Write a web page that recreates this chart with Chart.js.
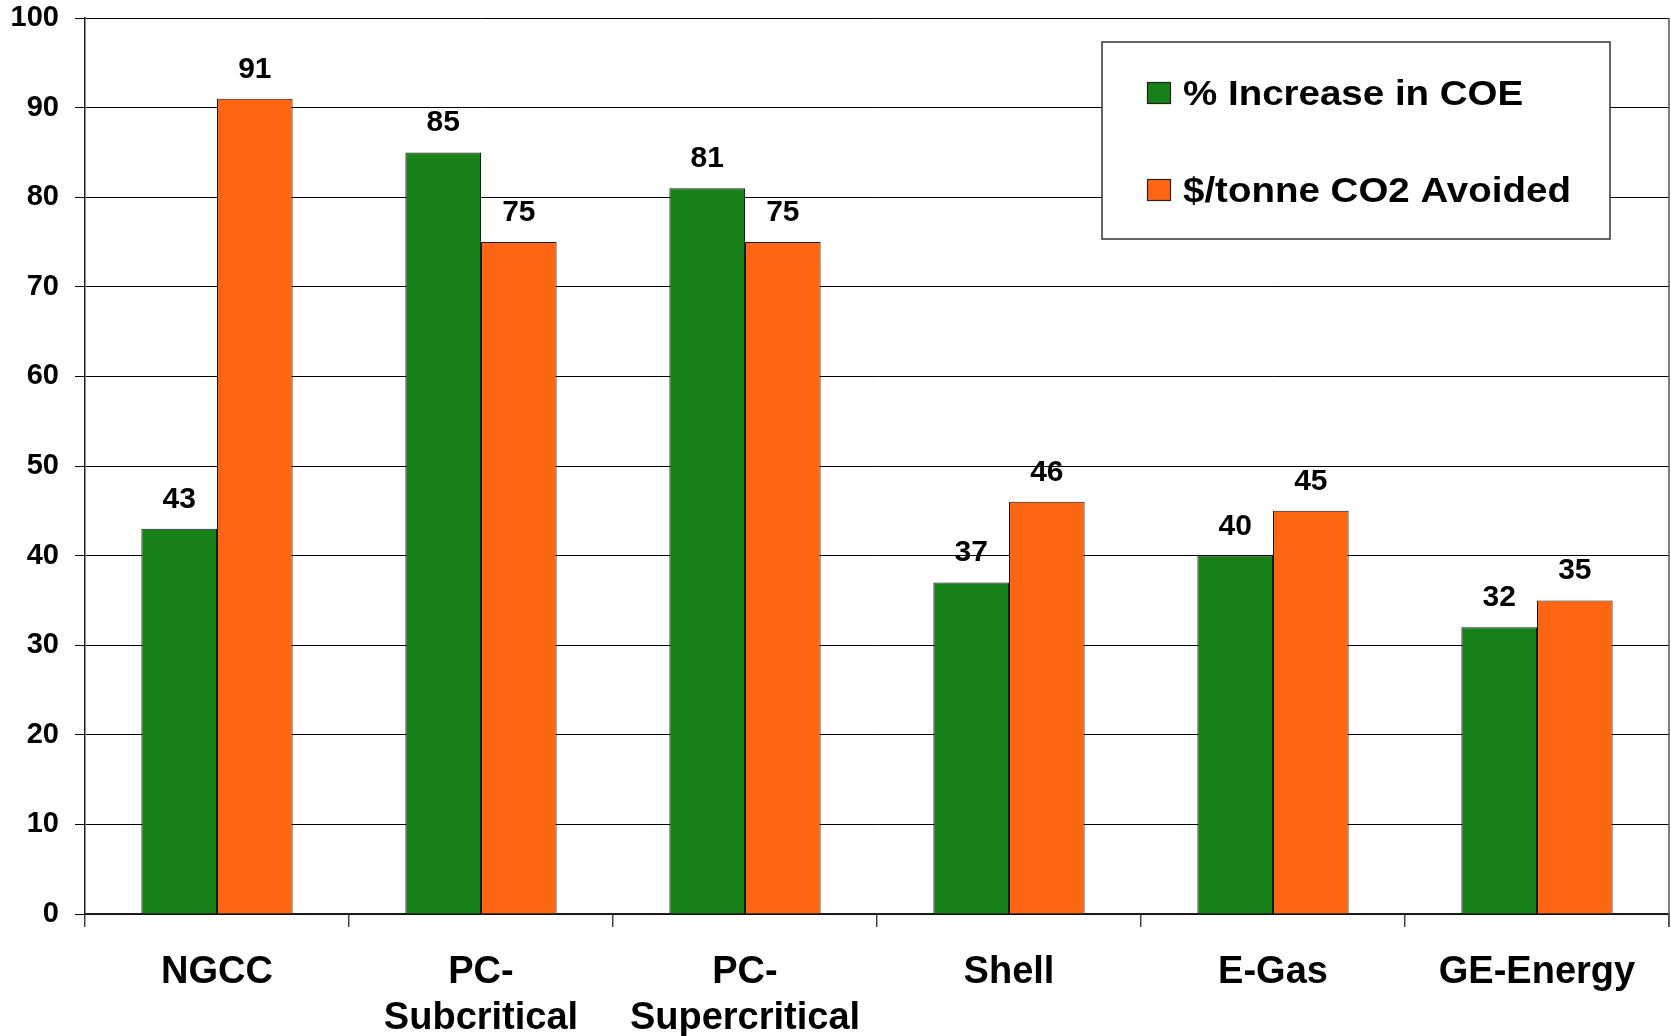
<!DOCTYPE html>
<html>
<head>
<meta charset="utf-8">
<script src="https://cdn.jsdelivr.net/npm/chart.js@4.4.0/dist/chart.umd.min.js"></script>
<style>
  html, body { margin: 0; padding: 0; background: #fff; }
  canvas { display: block; }
</style>
</head>
<body>
<canvas id="grafCusto" width="1671" height="1036"></canvas>
<script>
// dados
var categorias = ['NGCC', ['PC-', 'Subcritical'], ['PC-', 'Supercritical'], 'Shell', 'E-Gas', 'GE-Energy'];
var aumentoCOE = [43, 85, 81, 37, 40, 32];
var custoCO2 = [91, 75, 75, 46, 45, 35];
var nomesSeries = ['% Increase in COE', '$/tonne CO2 Avoided'];
var eixoYMin = 0;
var eixoYMax = 100;
var eixoYPasso = 10;

var fonte = 'Arial, "Liberation Sans", sans-serif';

// valores em cima das barras
var rotulosBarras = {
  id: 'rotulosBarras',
  afterDatasetsDraw: function (chart) {
    var ctx = chart.ctx;
    ctx.save();
    ctx.font = 'bold 30px ' + fonte;
    ctx.fillStyle = '#000';
    ctx.textAlign = 'center';
    ctx.textBaseline = 'alphabetic';
    chart.data.datasets.forEach(function (ds, i) {
      chart.getDatasetMeta(i).data.forEach(function (bar, j) {
        ctx.fillText(ds.data[j], bar.x, bar.y - 21);
      });
    });
    ctx.restore();
  }
};

// legenda em caixa no canto superior direito + borda direita
var legendaCaixa = {
  id: 'legendaCaixa',
  afterDraw: function (chart) {
    var ctx = chart.ctx;
    var area = chart.chartArea;
    ctx.save();
    ctx.strokeStyle = '#555';
    ctx.lineWidth = 1.5;
    ctx.beginPath();
    ctx.moveTo(area.right, area.top);
    ctx.lineTo(area.right, area.bottom + 13);
    ctx.stroke();

    var x = 1102, y = 42, w = 508, h = 197;
    ctx.fillStyle = '#fff';
    ctx.fillRect(x, y, w, h);
    ctx.strokeStyle = '#333';
    ctx.lineWidth = 1.5;
    ctx.strokeRect(x, y, w, h);

    ctx.font = 'bold 35px ' + fonte;
    ctx.textBaseline = 'middle';
    ctx.textAlign = 'left';
    chart.data.datasets.forEach(function (ds, i) {
      var cy = 93 + i * 97;
      ctx.fillStyle = ds.backgroundColor;
      ctx.fillRect(1147, cy - 11, 24, 22);
      ctx.strokeStyle = '#222';
      ctx.lineWidth = 1.2;
      ctx.strokeRect(1147.5, cy - 10.5, 23, 21);
      ctx.fillStyle = '#000';
      // texto um pouco esticado na horizontal, como no original
      ctx.save();
      ctx.translate(1183, cy + 2);
      ctx.scale(1.1, 1);
      ctx.fillText(ds.label, 0, 0);
      ctx.restore();
    });
    ctx.restore();
  }
};

var ctxCusto = document.getElementById('grafCusto').getContext('2d');

var grafCusto = new Chart(ctxCusto, {
  type: 'bar',
  data: {
    labels: categorias,
    datasets: [{
      label: nomesSeries[0],
      data: aumentoCOE,
      backgroundColor: 'rgb(24,128,24)',
      borderColor: '#1a1a1a',
      borderWidth: 1
    }, {
      label: nomesSeries[1],
      data: custoCO2,
      backgroundColor: 'rgb(255,102,20)',
      borderColor: '#1a1a1a',
      borderWidth: 1
    }]
  },
  options: {
    responsive: false,
    animation: false,
    layout: {
      padding: { top: 18, right: 2, bottom: 0, left: 0 }
    },
    datasets: {
      bar: {
        categoryPercentage: 0.573,
        barPercentage: 1
      }
    },
    scales: {
      x: {
        grid: {
          offset: true,
          drawOnChartArea: false,
          drawTicks: true,
          tickLength: 13,
          color: '#444',
          lineWidth: 1.5
        },
        border: { color: '#222', width: 1.5 },
        ticks: {
          color: '#000',
          padding: 23,
          maxRotation: 0,
          autoSkip: false,
          font: { family: fonte, size: 38, weight: 'bold', lineHeight: 1.21 }
        },
        afterFit: function (scale) {
          scale.height = 122;
          scale.paddingLeft = 0;
          scale.paddingRight = 0;
        }
      },
      y: {
        min: eixoYMin,
        max: eixoYMax,
        grid: {
          color: '#000',
          lineWidth: 1,
          tickLength: 10
        },
        border: { color: '#222', width: 1.5 },
        ticks: {
          stepSize: eixoYPasso,
          color: '#000',
          padding: 16,
          font: { family: fonte, size: 29, weight: 'bold' }
        },
        afterFit: function (scale) {
          scale.width = 85;
          scale.paddingTop = 0;
          scale.paddingBottom = 0;
        }
      }
    },
    plugins: {
      legend: { display: false },
      tooltip: { enabled: false }
    }
  },
  plugins: [rotulosBarras, legendaCaixa]
});
</script>
</body>
</html>
